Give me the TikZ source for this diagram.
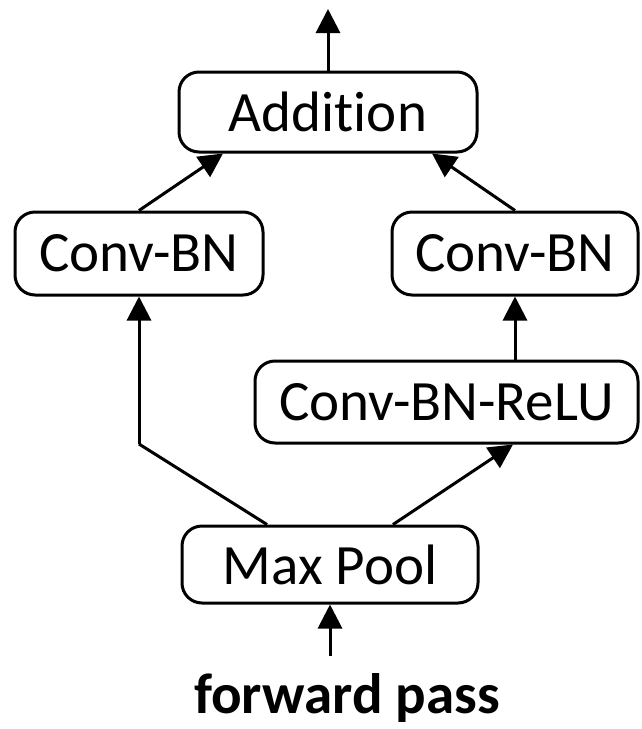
\documentclass[tikz,border=0pt]{standalone}
\usepackage{fontspec}
\setmainfont{Carlito}[Ligatures=NoCommon]
\usetikzlibrary{arrows.meta}
\begin{document}
\begin{tikzpicture}[x=1pt,y=-1pt,
  block/.style={draw=black, line width=3pt, rounded corners=20pt, fill=white,
    inner sep=0pt, font=\fontsize{57}{60}\selectfont},
  flow/.style={line width=3pt, -{Triangle[length=24pt,width=24pt]}},
  link/.style={line width=3pt}]
  \useasboundingbox (0,0) rectangle (641,729);

  % blocks
  \node[block, minimum width=298pt, minimum height=80pt] (add) at (328,112) {Addition};
  \node[block, minimum width=248pt, minimum height=83pt] (convL) at (139,253.5) {Conv-BN};
  \node[block, minimum width=246pt, minimum height=83pt] (convR) at (515,253.5) {Conv-BN};
  \node[block, minimum width=383pt, minimum height=82pt] (relu) at (446.5,402) {Conv-BN-ReLU};
  \node[block, minimum width=296pt, minimum height=77pt] (pool) at (330,564.5) {Max Pool};
  \node[font=\fontsize{57}{60}\selectfont\bfseries, anchor=base, inner sep=0pt] (fp) at (347,713) {forward pass};

  % free ends
  \coordinate (out) at (328,9);
  \coordinate (in) at (330,656);
  \coordinate (bend) at (139,444);

  % connectors
  \draw[flow] (add.north) -- (out);
  \draw[flow] (in) -- (pool.south);
  \draw[flow] (convL.north) -- ([xshift=-105pt]add.south);
  \draw[flow] (convR.north) -- ([xshift=104pt]add.south);
  \draw[flow] (relu.north -| convR.south) -- (convR.south);
  \draw[flow] ([xshift=63pt]pool.north) -- ([xshift=66.5pt]relu.south);
  \draw[link] ([xshift=-63pt]pool.north) -- (bend);
  \draw[flow] (bend) -- (convL.south);
\end{tikzpicture}
\end{document}
